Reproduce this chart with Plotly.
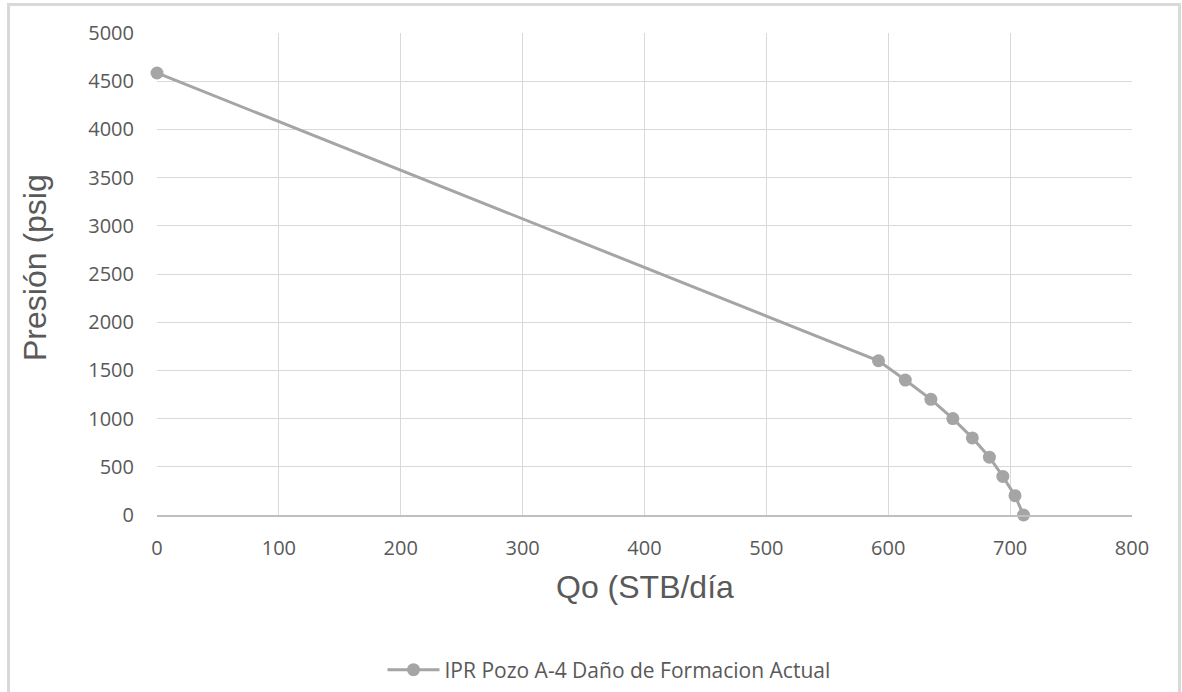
import plotly.graph_objects as go

# Data
qo = [0, 592, 614, 635, 653, 669, 683, 694, 704, 711]
pwf = [4585, 1600, 1400, 1200, 1000, 800, 600, 400, 200, 0]
series_name = "IPR Pozo A-4 Daño de Formacion Actual"
x_title = "Qo (STB/día"
y_title = "Presión (psig"

W, H = 1182, 692
L, R, T, B = 157, 50, 33, 177
pw, ph = W - L - R, H - T - B

def px(xp):
    return (xp - L) / pw

def py(yp):
    return (H - B - yp) / ph

tick_font = dict(family="Open Sans, Noto Sans, sans-serif", size=20, color="#595959")

fig = go.Figure()
fig.add_trace(go.Scatter(
    x=qo, y=pwf, mode="lines+markers", name=series_name,
    line=dict(color="#A5A5A5", width=3),
    marker=dict(color="#A5A5A5", size=13),
    cliponaxis=False,
))

fig.update_layout(
    width=W, height=H,
    margin=dict(l=L, r=R, t=T, b=B, autoexpand=False),
    paper_bgcolor="white", plot_bgcolor="white",
    showlegend=True,
    legend=dict(orientation="h", x=px(609), y=py(670), xanchor="center", yanchor="middle",
                itemwidth=52,
                font=dict(family="Open Sans, Noto Sans, sans-serif", size=21, color="#595959"),
                bgcolor="rgba(0,0,0,0)"),
    xaxis=dict(range=[0, 800], dtick=100, showgrid=True, gridcolor="#d9d9d9", gridwidth=1.3,
               zeroline=False, showline=True, linecolor="#bfbfbf", linewidth=1.5,
               tickfont=tick_font, ticks="", ticklabelstandoff=14, fixedrange=True,
               automargin=False),
    yaxis=dict(range=[0, 5000], dtick=500, showgrid=True, gridcolor="#d9d9d9", gridwidth=1.3,
               zeroline=False, showline=False,
               tickfont=tick_font, ticks="", ticklabelstandoff=22, fixedrange=True,
               automargin=False),
    shapes=[dict(type="rect", xref="paper", yref="paper",
                 x0=px(8.5), x1=px(1179.5), y0=py(720), y1=py(4.5),
                 line=dict(color="#d9d9d9", width=3), layer="below")],
    annotations=[
        dict(text=x_title, xref="paper", yref="paper", x=px(645), y=py(587),
             showarrow=False, xanchor="center", yanchor="middle",
             font=dict(family="Liberation Sans, Arial, sans-serif", size=32, color="#595959")),
        dict(text=y_title, xref="paper", yref="paper", x=px(35), y=py(268),
             showarrow=False, xanchor="center", yanchor="middle", textangle=-90,
             font=dict(family="Liberation Sans, Arial, sans-serif", size=32, color="#595959")),
    ],
)

fig.write_html("out.html", post_script="document.body.style.margin='0';",
               config={"displayModeBar": False})
